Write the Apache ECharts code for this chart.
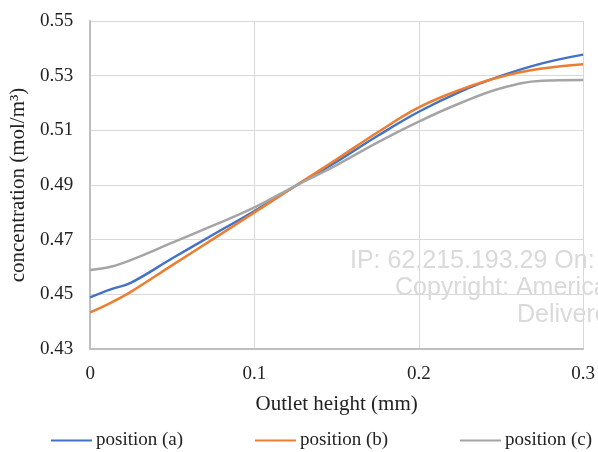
<!DOCTYPE html>
<html>
<head>
<meta charset="utf-8">
<script src="https://cdn.jsdelivr.net/npm/echarts@6/dist/echarts.min.js"></script>
<style>html,body{margin:0;padding:0;background:#fff;}#c{width:598px;height:452px;}</style>
</head>
<body>
<div id="c"></div>
<script>
const xValues = [0, 0.0125, 0.025, 0.05, 0.075, 0.1, 0.125, 0.15, 0.175, 0.2, 0.225, 0.25, 0.275, 0.3];
const positionA = [0.4489, 0.4518, 0.4543, 0.4632, 0.4719, 0.4805, 0.4897, 0.4985, 0.5080, 0.5168, 0.5241, 0.5299, 0.5345, 0.5377];
const positionB = [0.4434, 0.4469, 0.4510, 0.4607, 0.4703, 0.4800, 0.4897, 0.4994, 0.5093, 0.5184, 0.5248, 0.5296, 0.5326, 0.5342];
const positionC = [0.4589, 0.4601, 0.4626, 0.4689, 0.4752, 0.4818, 0.4897, 0.4973, 0.5056, 0.5132, 0.5199, 0.5254, 0.5281, 0.5284];
const seriesNames = ['position (a)', 'position (b)', 'position (c)'];
const xTicks = ['0', '0.1', '0.2', '0.3'];
const yTicks = ['0.43', '0.45', '0.47', '0.49', '0.51', '0.53', '0.55'];
const watermark = ['IP: 62.215.193.29 On: Thu, 18 Jan', 'Copyright: American Scientific', 'Delivered by Ingenta'];

const colors = ['#4472C4', '#ED7D31', '#A5A5A5'];
const serif = 'Liberation Serif';
const allData = [positionA, positionB, positionC];

const chart = echarts.init(document.getElementById('c'), null, {renderer: 'canvas'});
const legendLefts = [51, 255, 460];
chart.setOption({
  animation: false,
  backgroundColor: '#fff',
  color: colors,
  grid: {left: 87, right: 14, top: 21, bottom: 103, containLabel: false},
  legend: seriesNames.map((n, i) => ({
    data: [n], left: legendLefts[i], top: 431, padding: 0, icon: 'rect', itemWidth: 41, itemHeight: 2,
    selectedMode: false,
    textStyle: {fontFamily: serif, fontSize: 19, color: '#222', padding: [0, 0, 0, -1]}
  })),
  xAxis: {
    type: 'value', min: 0, max: 0.3, interval: 0.1,
    name: 'Outlet height (mm)', nameLocation: 'middle', nameGap: 45,
    nameTextStyle: {fontFamily: serif, fontSize: 21, color: '#222'},
    axisLine: {show: true, lineStyle: {color: '#bfbfbf', width: 2}},
    axisTick: {show: false},
    axisLabel: {fontFamily: serif, fontSize: 19, color: '#222', margin: 16,
      formatter: v => xTicks[Math.round(v * 10)]},
    splitLine: {show: true, lineStyle: {color: '#d9d9d9', width: 1}}
  },
  yAxis: {
    type: 'value', min: 0.43, max: 0.55, interval: 0.02,
    name: 'concentration (mol/m³)', nameLocation: 'middle', nameGap: 57,
    nameTextStyle: {fontFamily: serif, fontSize: 21, color: '#222'},
    axisLine: {show: true, lineStyle: {color: '#bfbfbf', width: 2}},
    axisTick: {show: false},
    axisLabel: {fontFamily: serif, fontSize: 19, color: '#222', margin: 17,
      formatter: v => yTicks[Math.round((v - 0.43) / 0.02)]},
    splitLine: {show: true, lineStyle: {color: '#d9d9d9', width: 1}}
  },
  graphic: watermark.map((t, i) => ({
    type: 'text', left: [350, 395, 517][i], top: [249, 276, 303][i], z: 0, silent: true,
    style: {text: t, fill: '#dadada', font: '25px "Liberation Sans"'}
  })),
  series: allData.map((d, i) => ({
    name: seriesNames[i], type: 'line', smooth: 0.4, symbol: 'none', z: 3,
    lineStyle: {width: 2.5, color: colors[i]},
    data: xValues.map((x, j) => [x, d[j]])
  }))
});
</script>
</body>
</html>
